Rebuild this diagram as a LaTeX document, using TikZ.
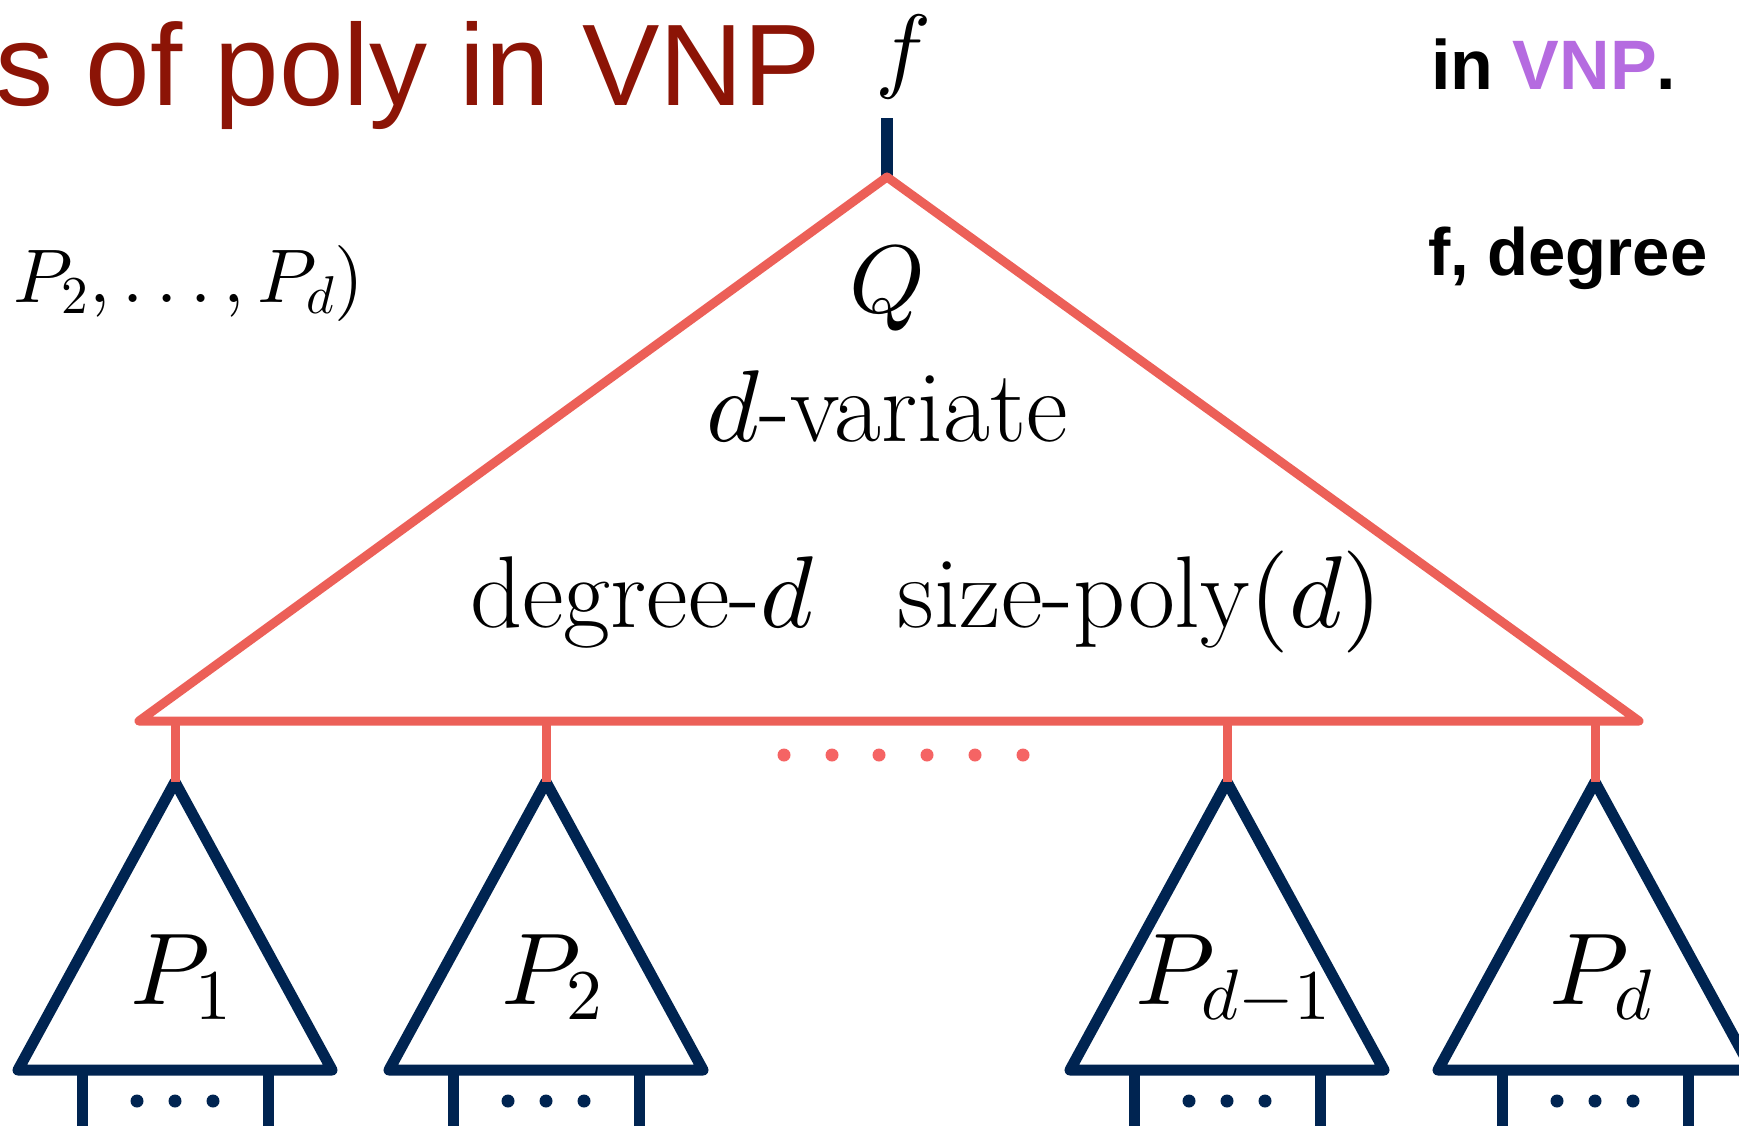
\documentclass[tikz,border=0pt]{standalone}
\usepackage{fontspec}
\newfontfamily\titlefont{Liberation Sans}
\newfontfamily\boldsans{Liberation Sans}
\DeclareFontFamily{OML}{cmm}{\skewchar\font'177}
\DeclareFontShape{OML}{cmm}{m}{it}{<-8.5>cmmi7<8.5->cmmi10}{}
\DeclareFontShape{OML}{cmm}{b}{it}{<->cmmib10}{}
\DeclareFontFamily{OT1}{cmr}{\hyphenchar\font45}
\DeclareFontShape{OT1}{cmr}{m}{n}{<->cmr10}{}
\DeclareFontShape{OT1}{cmr}{bx}{n}{<->cmbx10}{}
\DeclareFontFamily{OMS}{cmsy}{\skewchar\font'60}
\DeclareFontShape{OMS}{cmsy}{m}{n}{<->cmsy10}{}
\DeclareFontShape{OMS}{cmsy}{b}{n}{<->cmbsy10}{}
\usetikzlibrary{calc}
\definecolor{coral}{RGB}{236,96,88}
\definecolor{dotred}{RGB}{245,100,100}
\definecolor{navy}{RGB}{0,36,81}
\definecolor{titlered}{RGB}{140,20,6}
\definecolor{vnppurple}{RGB}{181,107,224}
\tikzset{
  redline/.style={draw=coral, line width=9pt, line join=round},
  navyline/.style={draw=navy, line width=11pt, line join=round},
  mathlabel/.style={inner sep=0pt, anchor=base, font=\fontsize{102}{108}\selectfont},
  reddot/.style={fill=dotred, draw=none},
  navydot/.style={fill=navy, draw=none},
}
\newcommand{\childtree}[3]{%
  \coordinate (#1top) at (#2,782);
  \draw[navyline] (#1top) -- ($(#1top)+(-157,288)$) -- ($(#1top)+(157,288)$) -- cycle;
  \node[mathlabel] (#1lab) at ($(#1top)+(6,222)$) {#3};
  \coordinate (#1legL) at ($(#1top)+(-93,288)$);
  \coordinate (#1legR) at ($(#1top)+(93,288)$);
  \coordinate (#1legLb) at ($(#1top)+(-93,350)$);
  \coordinate (#1legRb) at ($(#1top)+(93,350)$);
  \draw[navyline] (#1legL) -- (#1legLb);
  \draw[navyline] (#1legR) -- (#1legRb);
  \foreach \dx in {-38,0,38} \fill[navydot] ($(#1top)+(\dx,319)$) circle (6.5);
}
\begin{document}
\begin{tikzpicture}[x=1pt,y=-1pt]
\useasboundingbox (0,0) rectangle (1739,1125);
\begin{scope}
\clip (0,0) rectangle (1739,1125);
\node[inner sep=0pt, anchor=base east, text=titlered, font=\titlefont\fontsize{116}{120}\selectfont] (title) at (821,105) {s of poly in VNP};
\node[inner sep=0pt, anchor=base, font=\fontsize{94}{100}\selectfont] (flab) at (904,80) {$f$};
\coordinate (stemtop) at (887,118);
\coordinate (Qtop) at (887,177);
\draw[navyline, line width=12pt] (stemtop) -- (Qtop);
\coordinate (QL) at (139,721);
\coordinate (QR) at (1639,721);
\draw[redline] (Qtop) -- (QL) -- (QR) -- cycle;
\node[mathlabel, font=\fontsize{96}{100}\selectfont] (Qlab) at (887,312) {$Q$};
\node[mathlabel] (dvar) at (887,441) {$d$-variate};
\node[mathlabel] (deg) at (642,627) {degree-$d$};
\node[mathlabel] (size) at (1140,627) {size-poly$(d)$};
\childtree{A}{175}{$P_1$}
\childtree{B}{546}{$P_2$}
\childtree{C}{1227}{$P_{d-1}$}
\childtree{D}{1595}{$P_d$}
\foreach \n in {A,B,C,D} {
  \coordinate (\n base) at ($(\n top)+(0,-61)$);
  \draw[redline] (\n base) -- (\n top);
}
\foreach \x in {784,832,879,927,975,1023} \fill[reddot] (\x,755) circle (6.5);
\node[inner sep=0pt, anchor=base west, font=\fontsize{76}{80}\selectfont] (plist) at (13,302) {$P_2,\ldots,P_d)$};
\node[inner sep=0pt, anchor=base west, font=\boldsans\bfseries\fontsize{70}{74}\selectfont] (invnp) at (1431,89) {in \textcolor{vnppurple}{VNP}.};
\node[inner sep=0pt, anchor=base west, font=\boldsans\bfseries\fontsize{67}{72}\selectfont] (fdeg) at (1428,275) {f, degree};
\end{scope}
\end{tikzpicture}
\end{document}
